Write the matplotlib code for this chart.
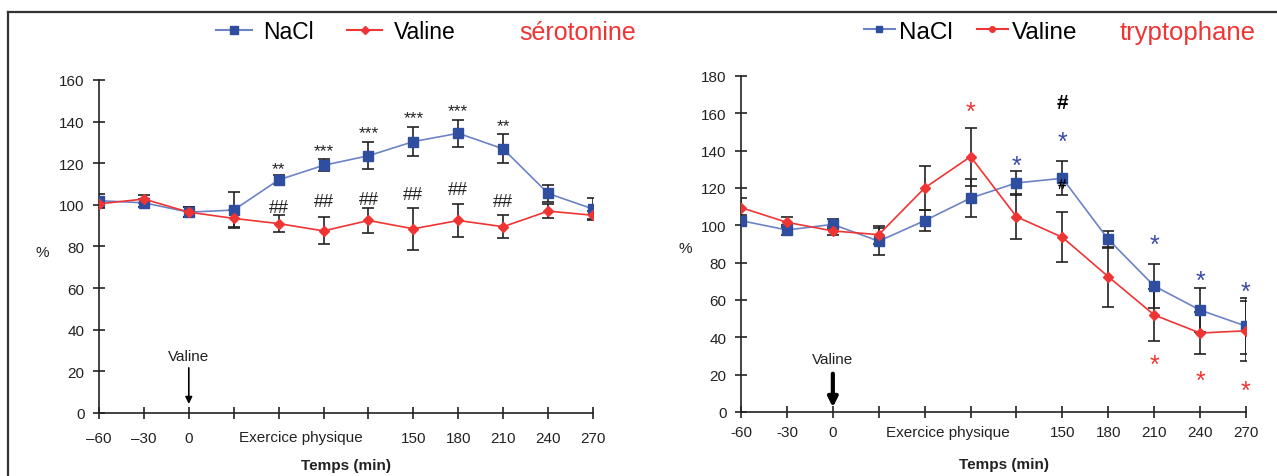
import numpy as np
import matplotlib
matplotlib.use('Agg')
import matplotlib.pyplot as plt
from matplotlib.lines import Line2D

plt.rcParams['font.family'] = ['Liberation Sans', 'DejaVu Sans']

# temps (min)
temps = [-60, -30, 0, 30, 60, 90, 120, 150, 180, 210, 240, 270]
labels_gauche = ['\u201360', '\u201330', '0', '', '', '', '', '150', '180', '210', '240', '270']
labels_droite = ['-60', '-30', '0', '', '', '', '', '150', '180', '210', '240', '270']

# serotonine (%)
sero_nacl = [102, 101, 96.5, 97.5, 112, 119, 123.6, 130.4, 134.4, 126.9, 105.5, 98]
sero_nacl_err = [3, 2, 2.5, 8.5, 2.2, 2.9, 6.4, 7, 6.6, 7, 4, 5.5]
sero_val = [100.5, 102.8, 96.5, 93.5, 91, 87.5, 92.5, 88.5, 92.5, 89.5, 97, 95]
sero_val_err = [2, 2, 2.5, 4, 4, 6.5, 5.8, 10, 7.8, 5.6, 3.5, 2]
sero_etoiles = ['', '', '', '', '**', '***', '***', '***', '***', '**', '', '']
sero_etoiles_y = [0, 0, 0, 0, 117.5, 126, 134.5, 142, 145.5, 138, 0, 0]
sero_dieses = ['', '', '', '', '##', '##', '##', '##', '##', '##', '', '']
sero_dieses_y = [0, 0, 0, 0, 98.5, 101.5, 102.5, 105, 107.5, 101.5, 0, 0]

# tryptophane (%)
tryp_nacl = [102.5, 97.5, 100.5, 91.5, 102.5, 114.6, 122.7, 125.2, 92.5, 67.5, 54.6, 46]
tryp_nacl_err = [3, 2.5, 2.7, 7.3, 5.5, 10, 6.4, 9.2, 4.5, 12, 12, 15]
tryp_val = [109.5, 101.6, 97, 95, 120, 136.8, 104.6, 93.6, 72.5, 52, 42.3, 43.5]
tryp_val_err = [5, 2.7, 2, 4.8, 12, 15.5, 12, 13.3, 16, 13.8, 11.4, 16]
tryp_bleu = ['', '', '', '', '', '', '*', '*', '', '*', '*', '*']
tryp_bleu_y = [0, 0, 0, 0, 0, 0, 132, 144.5, 0, 89.5, 70.5, 64.5]
tryp_rouge = ['', '', '', '', '', '*', '', '', '', '*', '*', '*']
tryp_rouge_y = [0, 0, 0, 0, 0, 161, 0, 0, 0, 25, 16.5, 11.5]

bleu = '#2f4ea0'
bleu_ligne = '#6c83c6'
rouge = '#ef3434'
noir = '#222222'

fig = plt.figure(figsize=(12.77, 4.77), dpi=100)

# cadre
fig.add_artist(Line2D([0.0063, 1.0], [0.9727, 0.9727], color='#333333', lw=1.6))
fig.add_artist(Line2D([0.0063, 0.0063], [0.0, 0.9727], color='#333333', lw=1.6))


def courbes(ax, nacl, nacl_err, val, val_err, ymax, labels, xpad, ylab, xtemps):
    ax.errorbar(temps, nacl, yerr=nacl_err, fmt='none', ecolor=noir, elinewidth=1.2,
                capsize=4, capthick=1.2, zorder=2)
    ax.errorbar(temps, val, yerr=val_err, fmt='none', ecolor=noir, elinewidth=1.2,
                capsize=4, capthick=1.2, zorder=2)
    ax.plot(temps, nacl, color=bleu_ligne, lw=1.2, marker='s', ms=7,
            mfc=bleu, mec=bleu, zorder=3)
    ax.plot(temps, val, color=rouge, lw=1.2, marker='D', ms=5,
            mfc=rouge, mec=rouge, zorder=4)
    ax.set_xlim(-60, 270)
    ax.set_ylim(0, ymax)
    ax.set_xticks(temps)
    ax.set_xticklabels(labels)
    ax.set_yticks(np.arange(0, ymax + 1, 20))
    for s in ['top', 'right']:
        ax.spines[s].set_visible(False)
    for s in ['left', 'bottom']:
        ax.spines[s].set_linewidth(1.2)
        ax.spines[s].set_color(noir)
        ax.spines[s].set_clip_on(False)
    ax.tick_params(direction='inout', length=9, width=1.2, color=noir,
                   labelsize=11, labelcolor='#222222')
    ax.tick_params(axis='y', pad=6)
    ax.tick_params(axis='x', pad=xpad)
    ax.text(75, ylab * ymax, 'Exercice physique', ha='center', va='center',
            fontsize=11, color='#222222')
    ax.text(xtemps, -0.155 * ymax, 'Temps (min)', ha='center', va='center',
            fontsize=11, fontweight='bold', color='#222222')


# ---- serotonine ----
ax1 = fig.add_axes([0.0775, 0.1321, 0.3869, 0.6981])
courbes(ax1, sero_nacl, sero_nacl_err, sero_val, sero_val_err, 160, labels_gauche,
        8.5, -0.072, 105)
for x, t, y in zip(temps, sero_etoiles, sero_etoiles_y):
    if t:
        ax1.text(x, y, t, ha='center', va='center', fontsize=12.5, color='#222222')
for x, t, y in zip(temps, sero_dieses, sero_dieses_y):
    if t:
        ax1.text(x, y, t, ha='center', va='center', fontsize=13, color='#222222')
ax1.text(0, 27.5, 'Valine', ha='center', va='center', fontsize=11, color='#222222')
ax1.annotate('', xy=(0, 3), xytext=(0, 23),
             arrowprops=dict(arrowstyle='-|>', color='black', lw=1.2, mutation_scale=10))
fig.text(0.033, 0.47, '%', ha='center', va='center', fontsize=11, color='#222222')
h1 = [Line2D([], [], color=bleu_ligne, lw=1.5, marker='s', ms=6, mfc=bleu, mec=bleu),
      Line2D([], [], color=rouge, lw=1.5, marker='D', ms=4, mfc=rouge, mec=rouge)]
ax1.legend(h1, ['NaCl', 'Valine'], ncol=2, loc='center', frameon=False,
           bbox_to_anchor=(0.263, 0.931), bbox_transform=fig.transFigure,
           fontsize=16.5, handlelength=1.55, handletextpad=0.5, columnspacing=1.45)
fig.text(0.407, 0.931, 's\u00e9rotonine', ha='left', va='center', fontsize=18, color=rouge)

# ---- tryptophane ----
ax2 = fig.add_axes([0.5803, 0.1342, 0.3954, 0.7044])
courbes(ax2, tryp_nacl, tryp_nacl_err, tryp_val, tryp_val_err, 180, labels_droite,
        5, -0.0595, 112)
for x, t, y in zip(temps, tryp_bleu, tryp_bleu_y):
    if t:
        ax2.text(x, y, t, ha='center', va='center', fontsize=18, color='#3a4aa8')
for x, t, y in zip(temps, tryp_rouge, tryp_rouge_y):
    if t:
        ax2.text(x, y, t, ha='center', va='center', fontsize=18, color=rouge)
ax2.text(150, 166, '#', ha='center', va='center', fontsize=15, fontweight='bold', color='black')
ax2.text(150, 122, '#', ha='center', va='center', fontsize=11, fontweight='bold', color='black', zorder=5)
ax2.text(0, 28.5, 'Valine', ha='center', va='center', fontsize=11, color='#222222')
ax2.annotate('', xy=(0, 1), xytext=(0, 22),
             arrowprops=dict(arrowstyle='-|>', color='black', lw=3, mutation_scale=14))
fig.text(0.537, 0.478, '%', ha='center', va='center', fontsize=11, color='#222222')
h2 = [Line2D([], [], color=bleu_ligne, lw=1.5, marker='s', ms=5, mfc=bleu, mec=bleu),
      Line2D([], [], color=rouge, lw=1.5, marker='o', ms=4, mfc=rouge, mec=rouge)]
ax2.legend(h2, ['NaCl', 'Valine'], ncol=2, loc='center', frameon=False,
           bbox_to_anchor=(0.760, 0.931), bbox_transform=fig.transFigure,
           fontsize=17.5, handlelength=1.28, handletextpad=0.16, columnspacing=1.0)
fig.text(0.877, 0.931, 'tryptophane', ha='left', va='center', fontsize=18.5, color=rouge)

fig.savefig('out.png', dpi=100)
